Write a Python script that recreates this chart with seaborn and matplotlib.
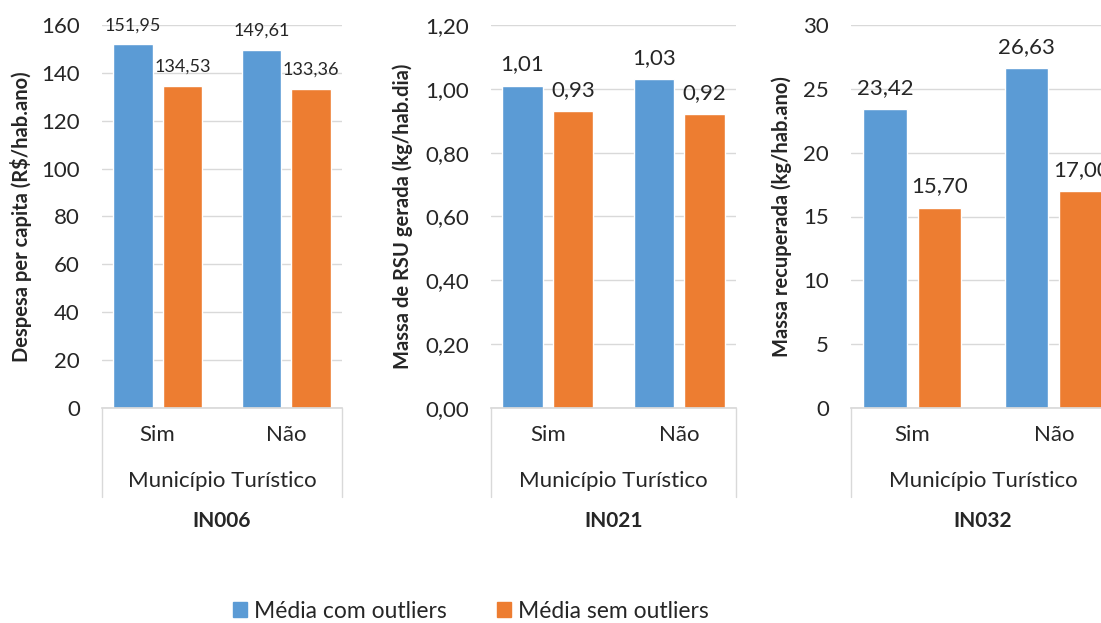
import seaborn as sns
import matplotlib.pyplot as plt
import pandas as pd
from matplotlib.patches import Patch
from matplotlib.ticker import FuncFormatter, MultipleLocator

# data
categorias = ["Sim", "Não"]
series = ["Média com outliers", "Média sem outliers"]
in006 = {"Média com outliers": [151.95, 149.61], "Média sem outliers": [134.53, 133.36]}
in021 = {"Média com outliers": [1.01, 1.03], "Média sem outliers": [0.93, 0.92]}
in032 = {"Média com outliers": [23.42, 26.63], "Média sem outliers": [15.70, 17.00]}

paineis = ["IN006", "IN021", "IN032"]
ylabels = ["Despesa per capita (R$/hab.ano)",
           "Massa de RSU gerada (kg/hab.dia)",
           "Massa recuperada (kg/hab.ano)"]
ylims = [(0, 160), (0, 1.2), (0, 30)]
ysteps = [20, 0.2, 5]
ydecimais = [0, 2, 0]

cores = ["#5B9BD5", "#ED7D31"]
cinza = "#D9D9D9"

sns.set_theme(style="white")
plt.rcParams["font.family"] = ["Lato", "DejaVu Sans"]

W, H = 1101, 623
fig = plt.figure(figsize=(W / 100, H / 100), dpi=100)

# axes boxes in pixels: left, right, top, bottom
caixas = [(102, 342, 25, 408), (491, 736, 25, 408), (851, 1115, 25, 408)]
label_x = [32, 413, 792]   # right edge of the rotated y label
label_fs = [13, 16, 16]


def monta_df(d):
    linhas = []
    for s in series:
        for c, v in zip(categorias, d[s]):
            linhas.append({"turistico": c, "serie": s, "valor": v})
    return pd.DataFrame(linhas)


for i, dados in enumerate([in006, in021, in032]):
    l, r, t, b = caixas[i]
    ax = fig.add_axes([l / W, 1 - b / H, (r - l) / W, (b - t) / H])
    df = monta_df(dados)
    sns.barplot(data=df, x="turistico", y="valor", hue="serie", order=categorias,
                hue_order=series, palette=cores, saturation=1, width=0.77, gap=0.2,
                legend=False, ax=ax)

    ax.set_ylim(*ylims[i])
    ax.yaxis.set_major_locator(MultipleLocator(ysteps[i]))
    dec = ydecimais[i]
    ax.yaxis.set_major_formatter(FuncFormatter(lambda v, p, d=dec: f"{v:.{d}f}".replace(".", ",")))
    ax.grid(axis="y", color=cinza, linewidth=1)
    ax.set_axisbelow(True)
    for s in ["left", "right", "top"]:
        ax.spines[s].set_visible(False)
    ax.spines["bottom"].set_color(cinza)
    ax.tick_params(axis="y", length=0, pad=16, labelsize=16)
    ax.tick_params(axis="x", length=0, pad=12, labelsize=16)

    ax.set_xlabel("")
    ax.set_ylabel(ylabels[i], fontsize=14.5, fontweight="bold")
    ax.yaxis.set_label_coords((label_x[i] - l) / (r - l), 0.5)

    for cont in ax.containers:
        ax.bar_label(cont, labels=[f"{v:.2f}".replace(".", ",") for v in cont.datavalues],
                     padding=8, fontsize=label_fs[i])

    altura = b - t
    for xa in [0, 1]:
        ax.plot([xa, xa], [0, -89 / altura], transform=ax.transAxes, color=cinza,
                linewidth=1, clip_on=False)
    ax.annotate("Município Turístico", xy=(0.5, 0), xycoords="axes fraction",
                xytext=(0, -73 * 0.72), textcoords="offset points",
                ha="center", va="center", fontsize=16)
    ax.annotate(paineis[i], xy=(0.5, 0), xycoords="axes fraction",
                xytext=(0, -113 * 0.72), textcoords="offset points",
                ha="center", va="center", fontsize=15, fontweight="bold")

handles = [Patch(color=c, label=s) for c, s in zip(cores, series)]
fig.legend(handles=handles, loc="center", bbox_to_anchor=(471 / W, 1 - 611 / H),
           ncol=2, frameon=False, fontsize=16.5, handlelength=0.6, handleheight=0.6,
           handletextpad=0.3, columnspacing=2.2)

fig.savefig("out.png", dpi=100)
